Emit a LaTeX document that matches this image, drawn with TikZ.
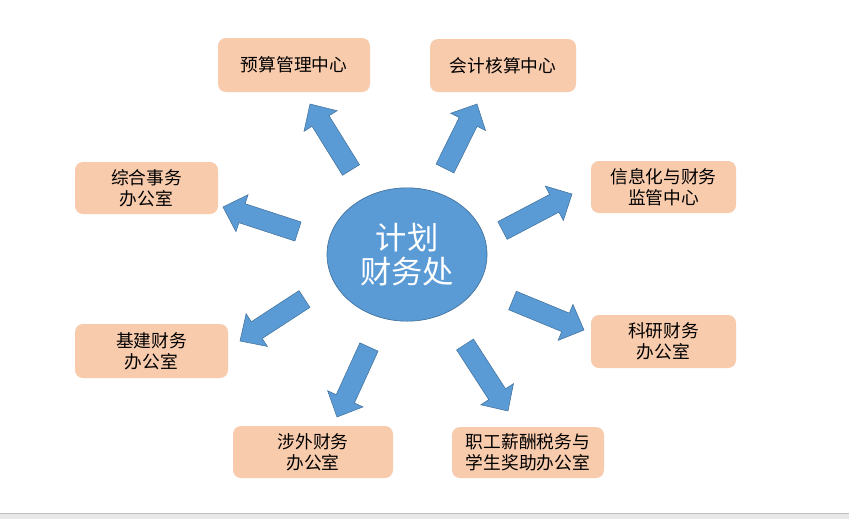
\documentclass[tikz,border=0pt]{standalone}
\usepackage{fontspec}
\newfontfamily\cjk{Noto Sans CJK SC}
\usetikzlibrary{calc}
\definecolor{boxfill}{HTML}{F8CBAD}
\definecolor{blufill}{HTML}{5B9BD5}
\definecolor{bluline}{HTML}{41719C}
\definecolor{barline}{HTML}{C0C0C0}
\definecolor{barfill}{HTML}{E8E8E8}
\tikzset{
  unitbox/.style={fill=boxfill, rounded corners=6pt, align=center, inner sep=0pt,
    font=\cjk\fontsize{13.3pt}{16pt}\selectfont, text=black},
  hub/.style={ellipse, fill=blufill, draw=bluline, line width=0.5pt, align=center,
    inner sep=0pt, minimum width=120pt, minimum height=100pt,
    font=\cjk\fontsize{23.5pt}{26pt}\selectfont, text=white},
  blockarrowstyle/.style={fill=blufill, draw=bluline, line width=0.4pt, line join=miter}
}
\newcommand\blockarr[2]{%
  \coordinate (#1b) at ($(#2)!15pt!(#1)$);
  \filldraw[blockarrowstyle] ($(#1)!7.5pt!90:(#2)$) -- ($(#1b)!7.5pt!90:(#2)$)
    -- ($(#1b)!14.6pt!90:(#2)$) -- (#2) -- ($(#1b)!14.6pt!-90:(#2)$)
    -- ($(#1b)!7.5pt!-90:(#2)$) -- ($(#1)!7.5pt!-90:(#2)$) -- cycle;
}
\usetikzlibrary{shapes.geometric}
\begin{document}
\begin{tikzpicture}[x=0.75pt,y=-0.75pt]
\useasboundingbox (0,0) rectangle (849,519);
\fill[white] (0,0) rectangle (849,519);
% bottom bar
\fill[barfill] (0,513) rectangle (849,519);
\draw[barline, line width=0.75pt] (0,513) -- (849,513);

% centre
\node[hub] (hub) at (407,254.5) {计划\\财务处};

% boxes
\node[unitbox, minimum width=114pt, minimum height=40.5pt] (b1) at (294,65) {预算管理中心};
\node[unitbox, minimum width=109.5pt, minimum height=39.75pt] (b2) at (503,65.5) {会计核算中心};
\node[unitbox, minimum width=107.25pt, minimum height=39pt] (b3) at (146.5,188) {综合事务\\办公室};
\node[unitbox, minimum width=108.75pt, minimum height=39pt] (b4) at (663.5,187) {信息化与财务\\监管中心};
\node[unitbox, minimum width=114.75pt, minimum height=40.5pt] (b5) at (151.5,351) {基建财务\\办公室};
\node[unitbox, minimum width=108.75pt, minimum height=39.75pt] (b6) at (663.5,341.5) {科研财务\\办公室};
\node[unitbox, minimum width=120pt, minimum height=39pt] (b7) at (313,452) {涉外财务\\办公室};
\node[unitbox, minimum width=114pt, minimum height=38.25pt] (b8) at (528,452.5) {职工薪酬税务与\\学生奖助办公室};

% arrow ends
\coordinate (t1) at (351,170);   \coordinate (p1) at (310,104);
\coordinate (t2) at (445,168.5); \coordinate (p2) at (477,104);
\coordinate (t3) at (298,231.5); \coordinate (p3) at (223,207);
\coordinate (t4) at (502.5,230.5); \coordinate (p4) at (572,194);
\coordinate (t5) at (304.5,299); \coordinate (p5) at (240,341);
\coordinate (t6) at (512.5,300.5); \coordinate (p6) at (584,330);
\coordinate (t7) at (369,347);   \coordinate (p7) at (337,417);
\coordinate (t8) at (465,344.5); \coordinate (p8) at (508,411);

\blockarr{t1}{p1}
\blockarr{t2}{p2}
\blockarr{t3}{p3}
\blockarr{t4}{p4}
\blockarr{t5}{p5}
\blockarr{t6}{p6}
\blockarr{t7}{p7}
\blockarr{t8}{p8}
\end{tikzpicture}
\end{document}
